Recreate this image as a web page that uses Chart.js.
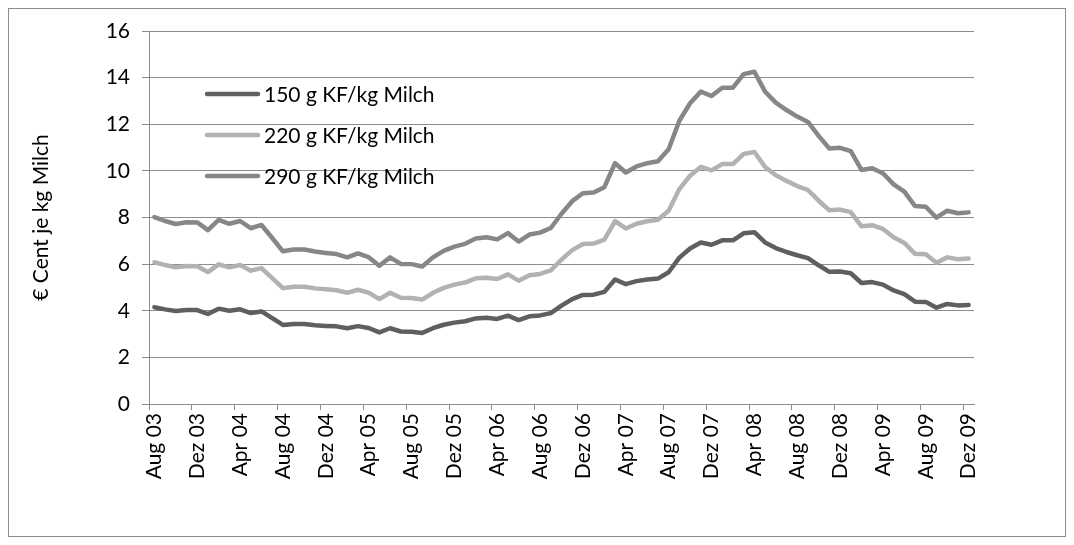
<!DOCTYPE html>
<html>
<head>
<meta charset="utf-8">
<script src="https://cdn.jsdelivr.net/npm/chart.js@4.4.0/dist/chart.umd.min.js"></script>
<style>
html, body { margin: 0; padding: 0; background: #fff; }
#wrap { position: relative; width: 1074px; height: 545px; }
</style>
</head>
<body>
<div id="wrap"><canvas id="chart" width="1074" height="545"></canvas></div>
<script>
'use strict';

// Monthly categories, Aug 03 .. Dez 09
var categories = [
	'Aug 03', 'Sep 03', 'Okt 03', 'Nov 03', 'Dez 03',
	'Jan 04', 'Feb 04', 'Mrz 04', 'Apr 04', 'Mai 04', 'Jun 04', 'Jul 04', 'Aug 04', 'Sep 04', 'Okt 04', 'Nov 04', 'Dez 04',
	'Jan 05', 'Feb 05', 'Mrz 05', 'Apr 05', 'Mai 05', 'Jun 05', 'Jul 05', 'Aug 05', 'Sep 05', 'Okt 05', 'Nov 05', 'Dez 05',
	'Jan 06', 'Feb 06', 'Mrz 06', 'Apr 06', 'Mai 06', 'Jun 06', 'Jul 06', 'Aug 06', 'Sep 06', 'Okt 06', 'Nov 06', 'Dez 06',
	'Jan 07', 'Feb 07', 'Mrz 07', 'Apr 07', 'Mai 07', 'Jun 07', 'Jul 07', 'Aug 07', 'Sep 07', 'Okt 07', 'Nov 07', 'Dez 07',
	'Jan 08', 'Feb 08', 'Mrz 08', 'Apr 08', 'Mai 08', 'Jun 08', 'Jul 08', 'Aug 08', 'Sep 08', 'Okt 08', 'Nov 08', 'Dez 08',
	'Jan 09', 'Feb 09', 'Mrz 09', 'Apr 09', 'Mai 09', 'Jun 09', 'Jul 09', 'Aug 09', 'Sep 09', 'Okt 09', 'Nov 09', 'Dez 09'
];

var kf150 = [
	4.15, 4.06, 3.99, 4.03, 4.03,
	3.86, 4.09, 4.00, 4.06, 3.90, 3.97, 3.68, 3.39, 3.43, 3.43, 3.38, 3.35,
	3.33, 3.25, 3.34, 3.26, 3.07, 3.25, 3.11, 3.10, 3.05, 3.25, 3.40, 3.49,
	3.55, 3.67, 3.70, 3.65, 3.79, 3.60, 3.76, 3.80, 3.90, 4.22, 4.50, 4.68,
	4.69, 4.81, 5.34, 5.14, 5.27, 5.34, 5.38, 5.65, 6.28, 6.67, 6.93, 6.83,
	7.02, 7.02, 7.32, 7.37, 6.93, 6.69, 6.52, 6.38, 6.26, 5.95, 5.67, 5.68,
	5.61, 5.19, 5.23, 5.12, 4.87, 4.71, 4.39, 4.38, 4.13, 4.29, 4.23, 4.25
];

var kf220 = [
	6.08, 5.96, 5.86, 5.92, 5.91,
	5.66, 5.99, 5.86, 5.96, 5.72, 5.83, 5.40, 4.97, 5.03, 5.03, 4.96, 4.92,
	4.88, 4.77, 4.90, 4.78, 4.50, 4.77, 4.56, 4.55, 4.48, 4.77, 4.98, 5.12,
	5.21, 5.39, 5.42, 5.36, 5.56, 5.29, 5.52, 5.58, 5.73, 6.19, 6.60, 6.86,
	6.88, 7.05, 7.84, 7.53, 7.73, 7.84, 7.90, 8.29, 9.22, 9.79, 10.17, 10.02,
	10.29, 10.29, 10.73, 10.81, 10.17, 9.81, 9.57, 9.35, 9.18, 8.72, 8.31, 8.34,
	8.23, 7.62, 7.67, 7.51, 7.15, 6.91, 6.44, 6.42, 6.06, 6.29, 6.21, 6.24
];

var kf290 = [
	8.02, 7.85, 7.72, 7.80, 7.79,
	7.46, 7.90, 7.73, 7.85, 7.54, 7.68, 7.12, 6.55, 6.63, 6.63, 6.54, 6.48,
	6.43, 6.29, 6.46, 6.30, 5.93, 6.29, 6.01, 6.00, 5.90, 6.29, 6.57, 6.75,
	6.87, 7.10, 7.15, 7.06, 7.33, 6.97, 7.27, 7.35, 7.55, 8.16, 8.70, 9.04,
	9.07, 9.30, 10.33, 9.93, 10.19, 10.33, 10.41, 10.93, 12.15, 12.90, 13.40, 13.21,
	13.57, 13.57, 14.15, 14.25, 13.40, 12.93, 12.61, 12.33, 12.10, 11.50, 10.96, 10.99,
	10.85, 10.04, 10.11, 9.90, 9.42, 9.11, 8.49, 8.46, 7.99, 8.29, 8.18, 8.22
];

var seriesNames = ['150 g KF/kg Milch', '220 g KF/kg Milch', '290 g KF/kg Milch'];
var seriesColors = ['#5f5f5f', '#b2b2b2', '#878787'];

var FONT = 'Lato, "Open Sans", sans-serif';
var AXIS = '#8c8c8c';

Chart.defaults.font.family = FONT;
Chart.defaults.font.size = 21;
Chart.defaults.color = '#000';

// white page + thin outer frame
var frame = {
	id: 'frame',
	beforeDraw: function (chart) {
		var c = chart.ctx;
		c.save();
		c.fillStyle = '#fff';
		c.fillRect(0, 0, chart.width, chart.height);
		c.strokeStyle = AXIS;
		c.lineWidth = 1;
		c.strokeRect(8.5, 8.5, 1057, 528);
		c.restore();
	}
};

// legend sits inside the plot, over the grid
var legendLines = {
	id: 'legendLines',
	afterDatasetsDraw: function (chart) {
		var c = chart.ctx;
		chart.data.datasets.forEach(function (ds, i) {
			var y = 94 + i * 41;
			c.save();
			c.strokeStyle = ds.borderColor;
			c.lineWidth = 4.5;
			c.lineCap = 'round';
			c.beginPath();
			c.moveTo(207, y);
			c.lineTo(258, y);
			c.stroke();
			c.fillStyle = '#000';
			c.font = '21px ' + FONT;
			c.textAlign = 'left';
			c.textBaseline = 'middle';
			c.fillText(ds.label, 264, y + 1);
			c.restore();
		});
	}
};

var values = [kf150, kf220, kf290];

new Chart(document.getElementById('chart'), {
	type: 'line',
	data: {
		labels: categories,
		datasets: values.map(function (v, i) {
			return {
				label: seriesNames[i],
				data: v,
				borderColor: seriesColors[i],
				backgroundColor: seriesColors[i],
				fill: false
			};
		})
	},
	options: {
		responsive: false,
		animation: false,
		layout: { padding: { left: 20, right: 100, top: 31, bottom: 40 } },
		elements: {
			point: { radius: 0 },
			line: { borderWidth: 4.5, tension: 0, borderCapStyle: 'round', borderJoinStyle: 'round' }
		},
		plugins: {
			legend: { display: false },
			tooltip: { enabled: false }
		},
		scales: {
			x: {
				offset: true,
				grid: {
					offset: true,
					drawOnChartArea: false,
					tickLength: 6,
					color: function (ctx) {
						return ctx.index % 4 === 0 ? AXIS : 'rgba(0,0,0,0)';
					}
				},
				border: { color: AXIS },
				ticks: {
					autoSkip: false,
					minRotation: 90,
					maxRotation: 90,
					padding: 3,
					callback: function (v, i) {
						return i % 4 === 0 ? categories[i] : '';
					}
				},
				afterFit: function (s) { s.height = 101; }
			},
			y: {
				min: 0,
				max: 16,
				ticks: { stepSize: 2, padding: 12 },
				grid: { color: AXIS, tickLength: 7 },
				border: { color: AXIS },
				title: {
					display: true,
					text: '€ Cent je kg Milch',
					padding: { top: 9, bottom: 0 }
				},
				afterFit: function (s) { s.width = 129; }
			}
		}
	},
	plugins: [frame, legendLines]
});
</script>
</body>
</html>
